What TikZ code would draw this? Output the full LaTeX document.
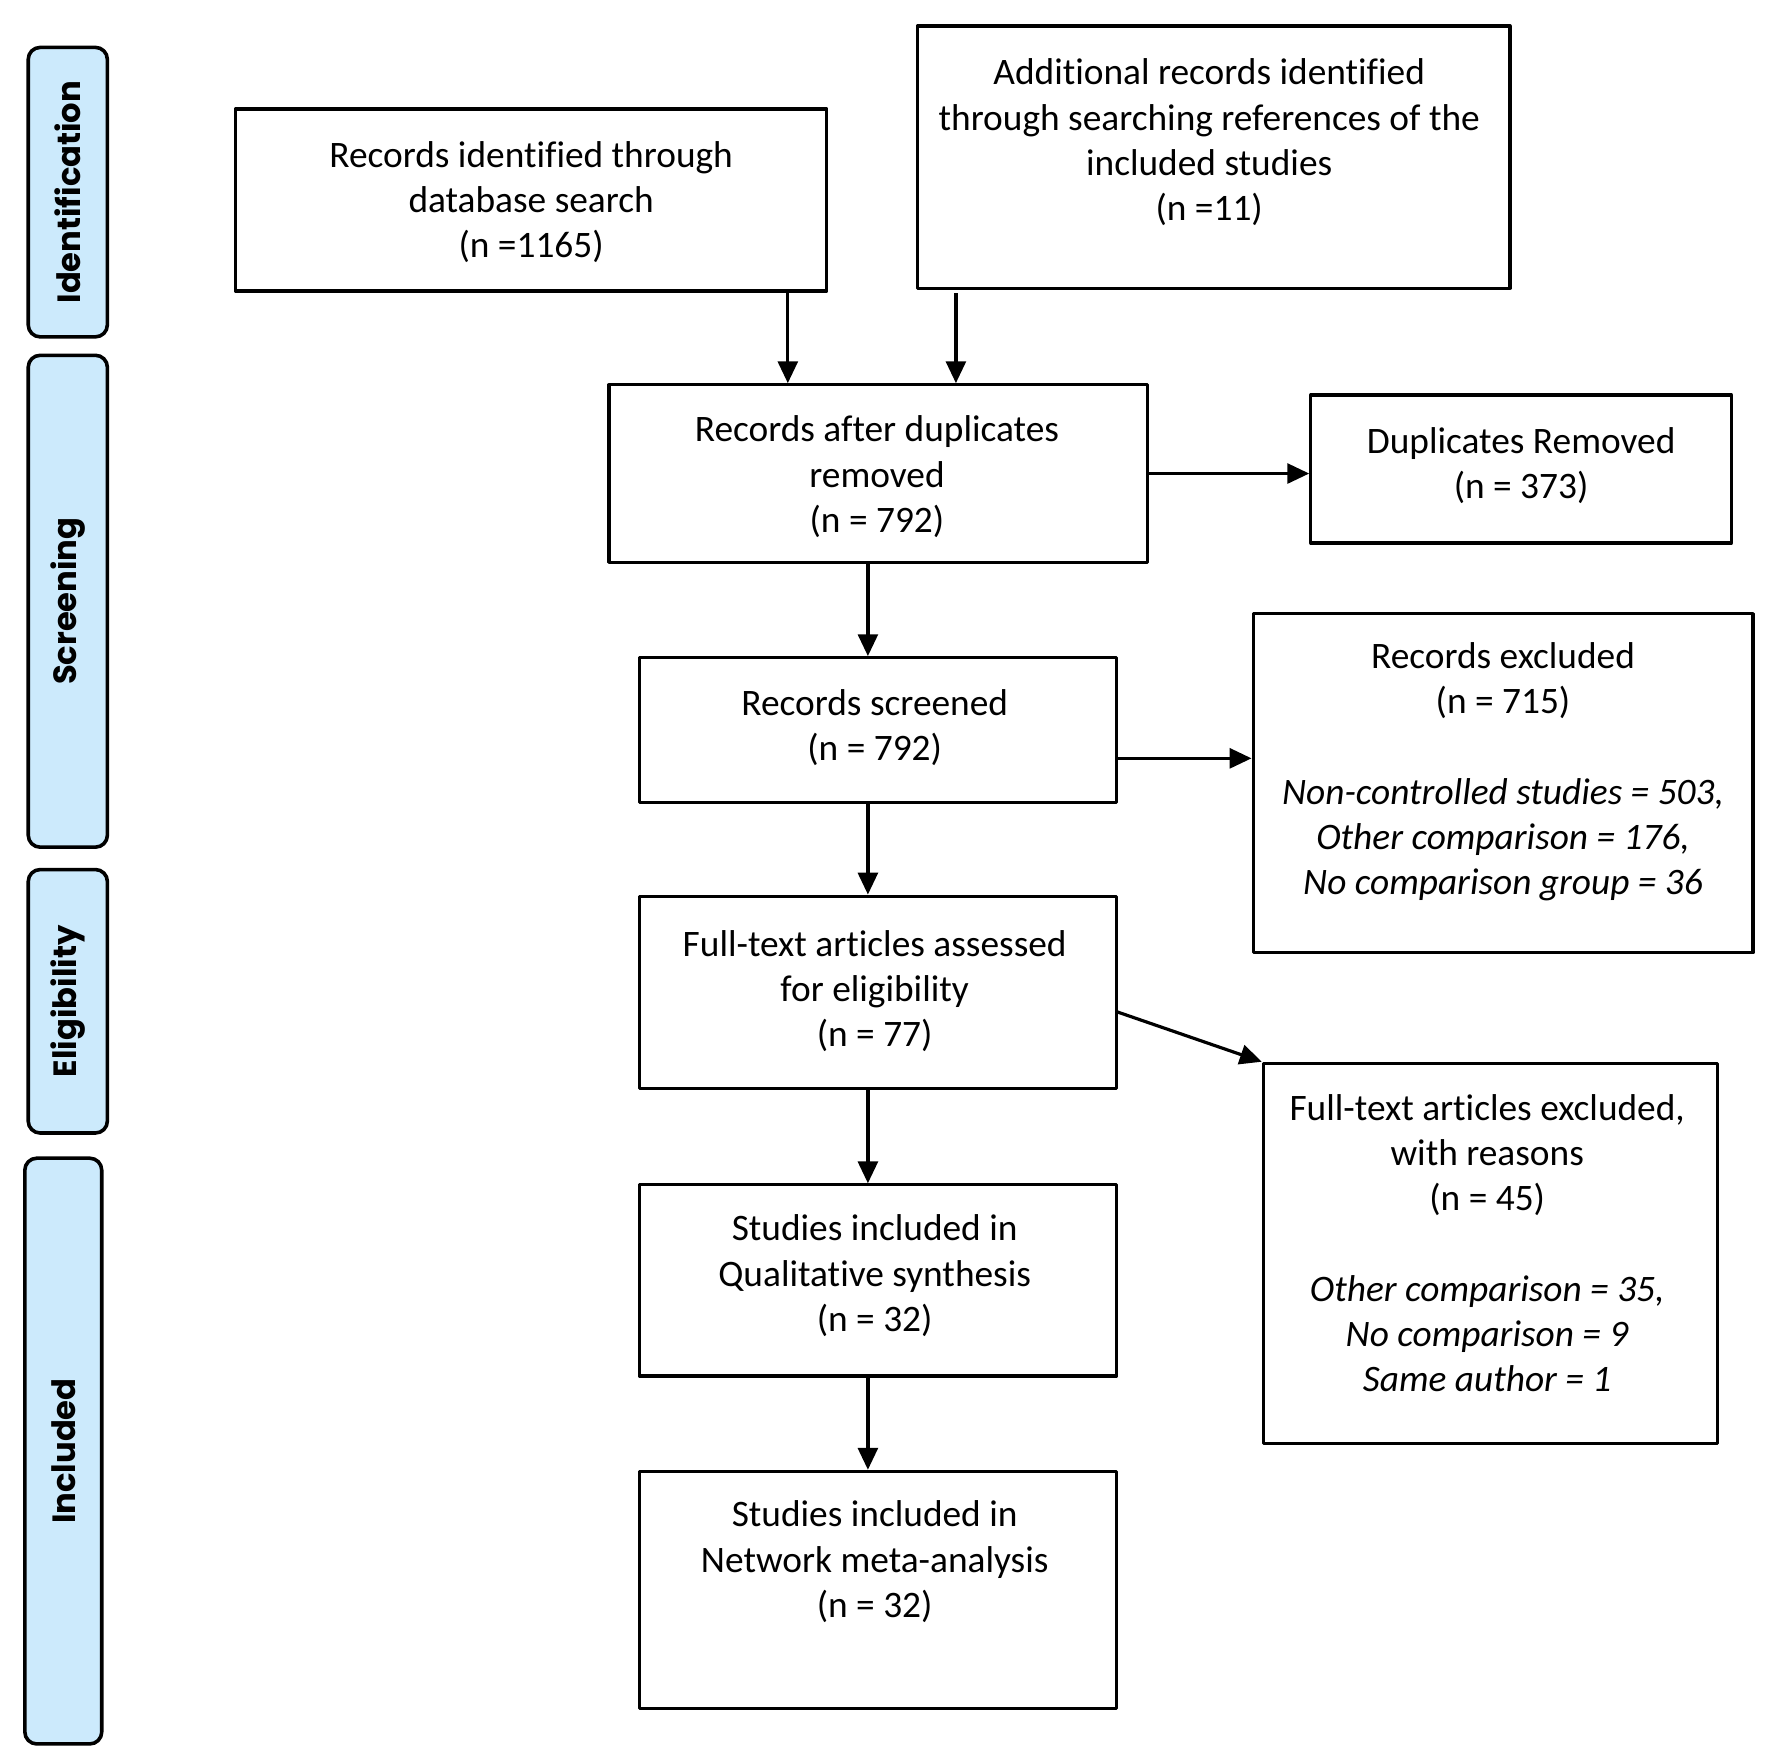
\documentclass[tikz,border=0pt]{standalone}
\usepackage{fontspec}
\setmainfont{Carlito}[Ligatures=CommonOff]
\newfontfamily\phasefont{Poppins}
\usetikzlibrary{arrows.meta}
\definecolor{phaseblue}{RGB}{204,234,252}
\tikzset{
  box/.style={draw, line width=0.8pt, inner sep=0pt},
  txt/.style={align=center, inner sep=0pt, font=\fontsize{9.4}{11.4}\selectfont},
  phase/.style={draw, line width=0.9pt, fill=phaseblue, rounded corners=3pt, rotate=90,
    inner sep=0pt, font=\phasefont\bfseries\fontsize{8.1}{10}\selectfont}
}
\begin{document}
\begin{tikzpicture}[x=0.01cm, y=-0.01cm, line join=round, >={Triangle[length=5.5pt,width=5pt]}]
    \useasboundingbox[fill=white] (0,0) rectangle (1568,1556);
    % phases
    \node[phase, minimum width=2.56cm, minimum height=0.70cm] (ph1) at (60,170) {Identification};
    \node[phase, minimum width=4.35cm, minimum height=0.70cm] (ph2) at (60,532) {Screening};
    \node[phase, minimum width=2.33cm, minimum height=0.70cm] (ph3) at (60,886) {Eligibility};
    \node[phase, minimum width=5.18cm, minimum height=0.68cm] (ph4) at (56,1284) {Included};
    % boxes
    \node[box, minimum width=5.23cm, minimum height=1.61cm] (A) at (470,177) {};
    \node[box, minimum width=5.24cm, minimum height=2.32cm] (B) at (1074,139) {};
    \node[box, minimum width=4.76cm, minimum height=1.57cm] (C) at (777,419) {};
    \node[box, minimum width=3.72cm, minimum height=1.31cm] (D) at (1346,415) {};
    \node[box, minimum width=4.22cm, minimum height=1.28cm] (E) at (777,646) {};
    \node[box, minimum width=4.42cm, minimum height=3.00cm] (F) at (1330,693) {};
    \node[box, minimum width=4.22cm, minimum height=1.70cm] (G) at (777,878) {};
    \node[box, minimum width=4.02cm, minimum height=3.36cm] (H) at (1319,1109) {};
    \node[box, minimum width=4.22cm, minimum height=1.69cm] (I) at (777,1133) {};
    \node[box, minimum width=4.22cm, minimum height=2.10cm] (J) at (777,1407) {};
    % texts
    \node[txt] (tA) at (470,179) {Records identified through\\database search\\(n =1165)};
    \node[txt] (tB) at (1070,126) {Additional records identified\\through searching references of the\\included studies\\(n =11)};
    \node[txt] (tC) at (776,422) {Records after duplicates\\removed\\(n = 792)};
    \node[txt] (tD) at (1346,412) {Duplicates Removed\\(n = 373)};
    \node[txt] (tE) at (774,644) {Records screened\\(n = 792)};
    \node[txt] (tF) at (1330,683) {Records excluded\\(n = 715)\\[11.4pt]
      \textit{Non-controlled studies = 503,}\\\textit{Other comparison = 176,}\\\textit{No comparison group = 36}};
    \node[txt] (tG) at (774,877) {Full-text articles assessed\\for eligibility\\(n = 77)};
    \node[txt] (tH) at (1316,1100) {Full-text articles excluded,\\with reasons\\(n = 45)\\[11.4pt]
      \textit{Other comparison = 35,}\\\textit{No comparison = 9}\\\textit{Same author = 1}};
    \node[txt] (tI) at (774,1129) {Studies included in\\Qualitative synthesis\\(n = 32)};
    \node[txt] (tJ) at (774,1382) {Studies included in\\Network meta-analysis\\(n = 32)};
    % arrows
    \draw[->, line width=0.8pt] ([xshift=2.27cm]A.south) coordinate (a1) -- (a1 |- C.north);
    \draw[->, line width=0.8pt] ([xshift=-2.28cm,yshift=-0.03cm]B.south) coordinate (b1) -- (b1 |- C.north);
    \draw[->, line width=0.8pt] (C.east) -- (C.east -| D.west);
    \draw[->, line width=0.8pt] ([yshift=-0.25cm]E.east) coordinate (e1) -- (e1 -| F.west);
    \draw[->, line width=0.8pt] ([yshift=-0.17cm,xshift=-0.02cm]G.east) -- (H.north west);
    \foreach \u/\v in {C/E,E/G,G/I,I/J}
      \draw[->, line width=0.8pt] ([xshift=-0.09cm]\u.south) coordinate (p) -- (p |- \v.north);
\end{tikzpicture}
\end{document}
